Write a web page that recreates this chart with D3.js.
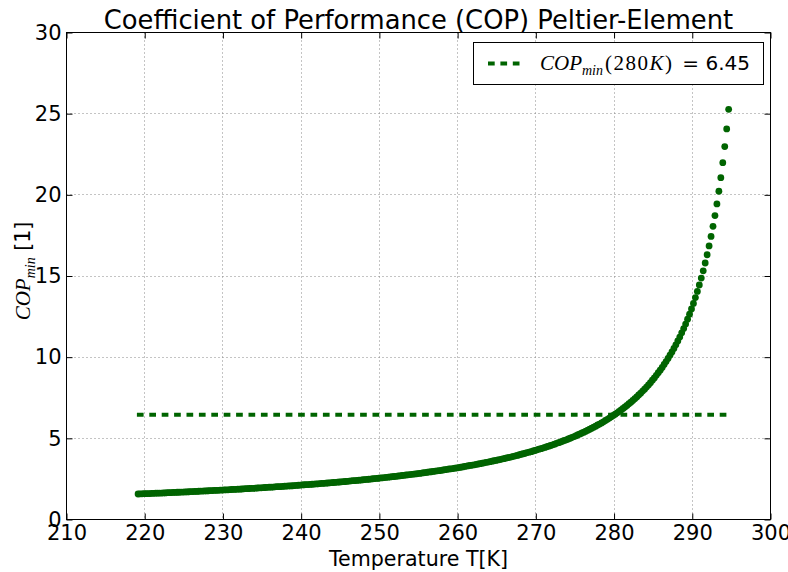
<!DOCTYPE html>
<html lang="en">
<head>
<meta charset="utf-8">
<title>COP Peltier-Element</title>
<script src="https://d3js.org/d3.v7.min.js"></script>
<style>
  body { margin: 0; background: #fff; }
  svg { display: block; }
</style>
</head>
<body>
<script>
// chart size + plot box (pixels)
const svgW = 788, svgH = 572;
const plotL = 66.5, plotR = 770.5, plotT = 32.5, plotB = 519.5;
const green = "#006400";

const tStart = 219.15;
const tStep = 0.25;
const copValues = [
  1.57,1.58,1.58,1.59,1.59,1.60,1.60,1.61,1.61,1.62,
  1.62,1.63,1.63,1.64,1.64,1.65,1.65,1.66,1.67,1.67,
  1.68,1.68,1.69,1.69,1.70,1.70,1.71,1.72,1.72,1.73,
  1.73,1.74,1.75,1.75,1.76,1.76,1.77,1.78,1.78,1.79,
  1.80,1.80,1.81,1.81,1.82,1.83,1.83,1.84,1.85,1.85,
  1.86,1.87,1.87,1.88,1.89,1.90,1.90,1.91,1.92,1.92,
  1.93,1.94,1.95,1.95,1.96,1.97,1.98,1.99,1.99,2.00,
  2.01,2.02,2.02,2.03,2.04,2.05,2.06,2.07,2.07,2.08,
  2.09,2.10,2.11,2.12,2.13,2.14,2.15,2.15,2.16,2.17,
  2.18,2.19,2.20,2.21,2.22,2.23,2.24,2.25,2.26,2.27,
  2.28,2.29,2.30,2.31,2.32,2.33,2.34,2.35,2.37,2.38,
  2.39,2.40,2.41,2.42,2.43,2.45,2.46,2.47,2.48,2.49,
  2.51,2.52,2.53,2.54,2.56,2.57,2.58,2.60,2.61,2.62,
  2.64,2.65,2.66,2.68,2.69,2.71,2.72,2.74,2.75,2.77,
  2.78,2.80,2.81,2.83,2.84,2.86,2.88,2.89,2.91,2.93,
  2.94,2.96,2.98,3.00,3.01,3.03,3.05,3.07,3.09,3.11,
  3.12,3.14,3.16,3.18,3.20,3.22,3.24,3.27,3.29,3.31,
  3.33,3.35,3.37,3.40,3.42,3.44,3.47,3.49,3.52,3.54,
  3.56,3.59,3.62,3.64,3.67,3.69,3.72,3.75,3.78,3.81,
  3.83,3.86,3.89,3.92,3.95,3.99,4.02,4.05,4.08,4.12,
  4.15,4.18,4.22,4.25,4.29,4.33,4.36,4.40,4.44,4.48,
  4.52,4.56,4.60,4.64,4.69,4.73,4.77,4.82,4.87,4.91,
  4.96,5.01,5.06,5.11,5.16,5.22,5.27,5.33,5.38,5.44,
  5.50,5.56,5.62,5.69,5.75,5.82,5.88,5.95,6.02,6.10,
  6.17,6.25,6.33,6.41,6.49,6.57,6.66,6.75,6.84,6.93,
  7.03,7.13,7.23,7.33,7.44,7.55,7.67,7.78,7.91,8.03,
  8.16,8.29,8.43,8.58,8.72,8.88,9.04,9.20,9.37,9.55,
  9.73,9.92,10.12,10.32,10.54,10.76,11.00,11.24,11.50,11.76,
  12.04,12.34,12.65,12.97,13.31,13.67,14.05,14.45,14.87,15.32,
  15.80,16.31,16.85,17.44,18.06,18.72,19.44,20.22,21.06,21.98,
  22.97,24.06,25.27
];
// reference line COP_min(280K)
const copRef = 6.45;
const refSpan = [219.0, 294.65];

// tick labels
const xTicks = [210, 220, 230, 240, 250, 260, 270, 280, 290, 300];
const yTicks = [0, 5, 10, 15, 20, 25, 30];

const data = copValues.map((c, i) => ({t: tStart + i * tStep, cop: c}));

const x = d3.scaleLinear().domain([210, 300]).range([plotL, plotR]);
const y = d3.scaleLinear().domain([0, 30]).range([plotB, plotT]);
const px = v => Math.round(x(v) - 0.5) + 0.5; // crisp lines
const py = v => Math.round(y(v) - 0.5) + 0.5;

const sans = "DejaVu Sans", serif = "Liberation Serif";

const svg = d3.select("body").append("svg")
    .attr("width", svgW)
    .attr("height", svgH)
    .attr("font-family", sans);

// grid
const grid = svg.append("g")
    .attr("stroke", "#888")
    .attr("stroke-width", 1)
    .attr("stroke-dasharray", "1,3");
grid.selectAll("line.gx").data(xTicks.slice(1, -1)).enter().append("line")
    .attr("x1", d => px(d)).attr("x2", d => px(d))
    .attr("y1", plotT).attr("y2", plotB);
grid.selectAll("line.gy").data(yTicks.slice(1, -1)).enter().append("line")
    .attr("x1", plotL).attr("x2", plotR)
    .attr("y1", d => py(d)).attr("y2", d => py(d));

// dashed reference line
svg.append("line")
    .attr("x1", x(refSpan[0])).attr("x2", x(refSpan[1]))
    .attr("y1", y(copRef)).attr("y2", y(copRef))
    .attr("stroke", green)
    .attr("stroke-width", 4)
    .attr("stroke-dasharray", "6.7,5.7");

// markers
svg.append("g").selectAll("circle")
    .data(data).enter().append("circle")
    .attr("cx", d => x(d.t))
    .attr("cy", d => y(d.cop))
    .attr("r", 3.4)
    .attr("fill", green);

// frame
svg.append("rect")
    .attr("x", plotL).attr("y", plotT)
    .attr("width", plotR - plotL).attr("height", plotB - plotT)
    .attr("fill", "none")
    .attr("stroke", "#000")
    .attr("stroke-width", 1);

// axes: ticks point inward, on all four sides
const tickLen = -6;
svg.append("g")
    .attr("transform", `translate(0,${plotB})`)
    .call(d3.axisBottom(x).tickValues(xTicks).tickSize(tickLen).tickPadding(6));
svg.append("g")
    .attr("transform", `translate(0,${plotT})`)
    .call(d3.axisTop(x).tickValues(xTicks).tickSize(tickLen).tickFormat(""));
svg.append("g")
    .attr("transform", `translate(${plotL},0)`)
    .call(d3.axisLeft(y).tickValues(yTicks).tickSize(tickLen).tickPadding(5));
svg.append("g")
    .attr("transform", `translate(${plotR},0)`)
    .call(d3.axisRight(y).tickValues(yTicks).tickSize(tickLen).tickFormat(""));

svg.selectAll(".domain").remove();
svg.selectAll(".tick line").attr("stroke", "#000");
svg.selectAll(".tick text")
    .attr("font-family", sans)
    .attr("font-size", 21)
    .attr("fill", "#000");

// title
svg.append("text")
    .attr("x", (plotL + plotR) / 2)
    .attr("y", 29)
    .attr("text-anchor", "middle")
    .attr("font-size", 25.8)
    .text("Coefficient of Performance (COP) Peltier-Element");

// x label
svg.append("text")
    .attr("x", (plotL + plotR) / 2)
    .attr("y", 566)
    .attr("text-anchor", "middle")
    .attr("font-size", 20.6)
    .text("Temperature T[K]");

// y label: COP_min [1]
const yl = svg.append("text")
    .attr("transform", "translate(30,271) rotate(-90)")
    .attr("text-anchor", "middle")
    .attr("font-size", 20.6);
yl.append("tspan")
    .attr("font-family", serif).attr("font-style", "italic")
    .attr("font-size", 21)
    .text("COP");
yl.append("tspan")
    .attr("font-family", serif).attr("font-style", "italic")
    .attr("font-size", 14).attr("dy", 5)
    .text("min");
yl.append("tspan")
    .attr("dy", -5)
    .text(" [1]");

// legend
const lg = svg.append("g");
lg.append("rect")
    .attr("x", 473.5).attr("y", 42.5)
    .attr("width", 290).attr("height", 42)
    .attr("fill", "#fff")
    .attr("stroke", "#000");
lg.append("line")
    .attr("x1", 488).attr("x2", 520)
    .attr("y1", 63.5).attr("y2", 63.5)
    .attr("stroke", green)
    .attr("stroke-width", 4)
    .attr("stroke-dasharray", "6.7,5.7");
const lt = lg.append("text")
    .attr("x", 540).attr("y", 70)
    .attr("font-family", serif)
    .attr("font-size", 21);
lt.append("tspan")
    .attr("font-style", "italic")
    .text("COP");
lt.append("tspan")
    .attr("font-style", "italic")
    .attr("font-size", 14).attr("dy", 5)
    .text("min");
lt.append("tspan")
    .attr("dy", -5).attr("dx", 2)
    .attr("letter-spacing", 1.5)
    .text("(280");
lt.append("tspan")
    .attr("font-style", "italic")
    .attr("letter-spacing", 1.5)
    .text("K");
lt.append("tspan")
    .text(")");
lg.append("text")
    .attr("x", 750).attr("y", 70)
    .attr("text-anchor", "end")
    .attr("font-size", 20)
    .text("= " + copRef.toFixed(2));
</script>
</body>
</html>
